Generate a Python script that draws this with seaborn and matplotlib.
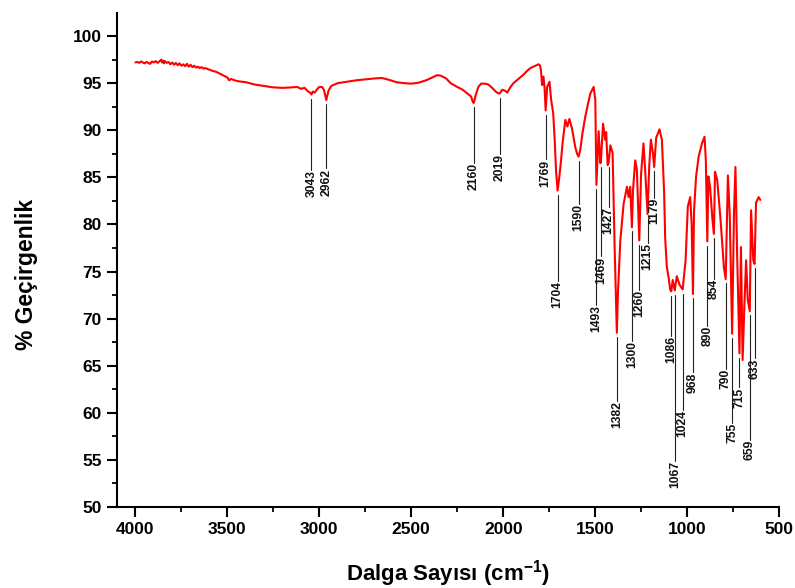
import numpy as np
import pandas as pd
import matplotlib
matplotlib.use("Agg")
import matplotlib.pyplot as plt
from matplotlib.ticker import MultipleLocator
import seaborn as sns

# ---- data ----
wavenumber = [
    4000, 3990, 3980, 3970, 3960, 3950, 3940, 3930, 3920, 3910, 3900, 3890, 3880, 3870,
    3860, 3855, 3850, 3845, 3840, 3830, 3820, 3810, 3800, 3790, 3780, 3770, 3760, 3750,
    3740, 3730, 3720, 3710, 3700, 3690, 3680, 3670, 3660, 3650, 3640, 3630, 3620, 3600,
    3580, 3560, 3540, 3520, 3500, 3490,
    3480, 3460, 3440, 3420, 3400, 3380, 3350, 3300, 3250, 3200, 3150, 3120, 3100, 3080,
    3060, 3050, 3043, 3035, 3025, 3010, 3000, 2985, 2975, 2962, 2950, 2935, 2900, 2850,
    2800, 2750, 2700, 2660, 2620, 2580, 2540, 2500, 2460, 2420, 2380, 2360, 2340, 2310,
    2286, 2250, 2220, 2195, 2175, 2165, 2160, 2150, 2135, 2120, 2100, 2080, 2060, 2040,
    2030, 2019, 2005, 1990, 1978, 1960, 1944, 1920, 1890, 1870, 1852, 1830, 1808, 1800,
    1795, 1788, 1781, 1775, 1769, 1761, 1748, 1739, 1728, 1720, 1712, 1704, 1695, 1689,
    1675, 1662, 1651, 1640, 1626, 1608, 1598, 1590, 1581, 1568, 1554, 1540, 1526, 1508,
    1499, 1493, 1481, 1472, 1469, 1457, 1445, 1440, 1432, 1427, 1417, 1405, 1394, 1382,
    1376, 1363, 1345, 1327, 1318, 1309, 1300, 1294, 1282, 1273, 1260, 1250, 1237, 1228,
    1215, 1206, 1197, 1186, 1179, 1168, 1150, 1137, 1125, 1119, 1110, 1100, 1092, 1086,
    1078, 1067, 1056, 1041, 1024, 1008, 996, 983, 975, 968, 962, 951, 937, 919,
    905, 898, 890, 884, 875, 862, 854, 848, 836, 818, 800, 790, 778, 768,
    755, 745, 737, 728, 715, 707, 698, 688, 679, 670, 659, 652, 640, 633,
    625, 611, 602,
]
transmittance = [
    97.2, 97.25, 97.15, 97.3, 97.2, 97.1, 97.25, 97.15, 97.05, 97.3, 97.2, 97.35, 97.15, 97.3,
    97.5, 97.2, 97.4, 97.1, 97.35, 97.15, 97.25, 97.0, 97.2, 96.95, 97.15, 96.9, 97.1, 96.85,
    97.0, 96.8, 97.05, 96.75, 96.95, 96.7, 96.85, 96.65, 96.75, 96.6, 96.7, 96.55, 96.6, 96.45,
    96.3, 96.2, 96.0, 95.8, 95.6, 95.3,
    95.45, 95.3, 95.2, 95.15, 95.1, 95.0, 94.85, 94.7, 94.55, 94.5, 94.55, 94.6, 94.4, 94.5,
    94.1, 94.0, 93.8, 94.1, 94.0, 94.4, 94.6, 94.6, 94.3, 93.2, 94.2, 94.7, 95.0, 95.15,
    95.3, 95.4, 95.5, 95.55, 95.35, 95.1, 95.0, 94.95, 95.05, 95.3, 95.65, 95.85, 95.8, 95.5,
    95.0, 94.6, 94.3, 93.9, 93.6, 93.0, 92.9, 93.7, 94.6, 94.95, 94.95, 94.85, 94.5, 94.1,
    93.95, 93.9, 94.3, 94.2, 94.0, 94.6, 95.0, 95.4, 95.9, 96.3, 96.6, 96.8, 97.0, 96.9,
    96.4, 94.8, 95.7, 94.5, 92.1, 94.6, 95.15, 93.2, 91.8, 89.0, 85.5, 83.6, 85.0, 86.1,
    89.0, 91.1, 90.4, 91.2, 90.2, 88.2, 87.5, 87.2, 87.9, 89.8, 91.4, 92.7, 93.9, 94.6,
    93.2, 84.2, 89.9, 86.5, 86.6, 90.7, 89.0, 89.8, 86.3, 86.5, 88.4, 87.6, 77.6, 68.5,
    72.7, 78.3, 82.2, 84.0, 82.9, 84.0, 79.7, 83.65, 86.8, 85.8, 78.3, 85.4, 88.6, 85.8,
    81.1, 86.1, 89.0, 87.6, 86.1, 89.2, 90.1, 89.0, 83.5, 78.5, 75.5, 74.3, 73.1, 72.9,
    74.1, 73.0, 74.5, 73.6, 73.1, 76.2, 81.9, 82.9, 80.0, 72.6, 81.5, 85.1, 87.2, 88.6,
    89.3, 86.8, 78.2, 85.1, 84.0, 80.5, 79.0, 85.6, 84.7, 80.5, 75.5, 74.2, 85.2, 81.0,
    68.4, 81.2, 86.1, 77.0, 66.3, 77.6, 65.6, 71.6, 76.2, 72.0, 70.8, 81.5, 76.2, 75.8,
    82.3, 82.9, 82.6,
]

peak_labels = [3043, 2962, 2160, 2019, 1769, 1704, 1590, 1493, 1469, 1427, 1382, 1300, 1260,
               1215, 1179, 1086, 1067, 1024, 968, 890, 854, 790, 755, 715, 659, 633]
# transmittance level where each label's text starts (bottom end of its leader line)
label_text_top = [85.75, 85.95, 86.55, 87.5, 86.9, 74.0, 82.2, 71.4, 76.6, 81.8, 61.3, 67.6, 73.0,
                  78.0, 82.8, 68.2, 54.9, 60.3, 64.3, 69.2, 74.2, 64.65, 58.9, 62.7, 57.1, 65.8]

x_ticks = [4000, 3500, 3000, 2500, 2000, 1500, 1000, 500]
y_ticks = [50, 55, 60, 65, 70, 75, 80, 85, 90, 95, 100]

df = pd.DataFrame({"wn": wavenumber, "T": transmittance})

sns.set_theme(style="ticks")
plt.rcParams["font.family"] = ["Liberation Sans", "DejaVu Sans"]
plt.rcParams["mathtext.fontset"] = "custom"
plt.rcParams["mathtext.rm"] = "Liberation Sans:bold"
plt.rcParams["mathtext.bf"] = "Liberation Sans:bold"
plt.rcParams["mathtext.it"] = "Liberation Sans:bold"
plt.rcParams["axes.labelcolor"] = "black"
plt.rcParams["text.color"] = "black"

fig = plt.figure(figsize=(7.95, 5.88), dpi=100)
ax = fig.add_axes([0.1472, 0.1378, 0.8327, 0.8401])

sns.lineplot(data=df, x="wn", y="T", ax=ax, color="#ff0000", linewidth=1.5,
             estimator=None, sort=False)

# peak annotations
for wn, ytop in zip(peak_labels, label_text_top):
    tval = np.interp(wn, wavenumber[::-1], transmittance[::-1])
    ax.plot([wn, wn], [tval - 0.45, ytop], color="#222222", linewidth=0.8)
    ax.text(wn, ytop, str(wn), rotation=90, ha="center", va="top",
            fontsize=8.7, fontweight="bold", color="#111111")

ax.set_xlim(4100, 500)
ax.set_ylim(50, 102.45)
ax.set_xticks(x_ticks)
ax.set_yticks(y_ticks)
ax.xaxis.set_minor_locator(MultipleLocator(250))
ax.yaxis.set_minor_locator(MultipleLocator(2.5))
ax.tick_params(which="major", direction="out", length=7, width=1.5, labelsize=12.5, pad=4,
               color="black", labelcolor="black")
ax.tick_params(which="minor", direction="out", length=3.5, width=1.3, color="black")
for lab in ax.get_xticklabels() + ax.get_yticklabels():
    lab.set_fontweight("bold")

for s in ["top", "right"]:
    ax.spines[s].set_visible(False)
for s in ["left", "bottom"]:
    ax.spines[s].set_linewidth(1.5)
    ax.spines[s].set_color("black")

ax.set_xlabel(r"Dalga Sayısı (cm$^{-1}$)", fontsize=16, fontweight="bold", color="black")
ax.set_ylabel("% Geçirgenlik", fontsize=16.5, fontweight="bold", color="black")
ax.xaxis.set_label_coords(0.5, -0.103)
ax.yaxis.set_label_coords(-0.12, 0.47)

fig.savefig("out.png", dpi=100, facecolor="white")
